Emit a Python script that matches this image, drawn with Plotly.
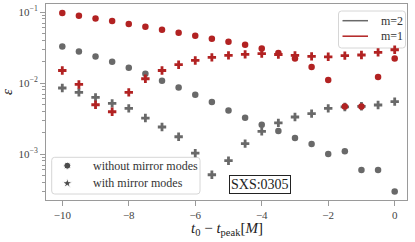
import plotly.graph_objects as go

t_shift = [-10.0, -9.5, -9.0, -8.5, -8.0, -7.5, -7.0, -6.5, -6.0, -5.5, -5.0,
           -4.5, -4.0, -3.5, -3.0, -2.5, -2.0, -1.5, -1.0, -0.5, 0.0]

m2_without = [0.0327, 0.0279, 0.0237, 0.0200, 0.0164, 0.0135, 0.0108, 0.00867,
              0.00684, 0.0054, 0.00411, 0.00324, 0.00259, 0.00211, 0.00168,
              0.00138, 0.00100, 0.00109, 0.000596, 0.000596, 0.000297]
m2_with = [0.0085, 0.00738, 0.00627, 0.00516, 0.00439, 0.00321, 0.0024, 0.00175,
           0.00103, 0.00051, 0.000805, 0.0014, 0.00208, 0.00274, 0.00332,
           0.0037, 0.00439, 0.0046, 0.0047, 0.0049, 0.00546]
m1_without = [0.0968, 0.0887, 0.0813, 0.0747, 0.0677, 0.0621, 0.0563, 0.0511,
              0.0464, 0.0420, 0.0382, 0.0346, 0.0307, 0.0265, 0.0222, 0.0168,
              0.0110, 0.00468, 0.00468, 0.01216, 0.0222]
m1_with = [0.0150, 0.00955, 0.00494, 0.00394, 0.00738, 0.01148, 0.0150, 0.0181,
           0.0208, 0.0230, 0.0245, 0.0253, 0.0259, 0.0252, 0.0245, 0.0237,
           0.0234, 0.0243, 0.0248, 0.0270, 0.0294]

x_ticks = [-10, -8, -6, -4, -2, 0]
y_ticks = [1e-3, 1e-2, 1e-1]
y_tick_labels = ["10<sup>−3</sup>", "10<sup>−2</sup>", "10<sup>−1</sup>"]
label_text = "SXS:0305"
color_legend_names = ["m=2", "m=1"]
marker_legend_names = ["without mirror modes", "with mirror modes"]

GRAY = "#696969"
RED = "#b22222"
FONT = "Liberation Serif"

# plot-area geometry (pixels) used to place decorations in paper coordinates
W, H = 415, 242
ML, MR, MT, MB = 46, 8, 4, 42
PW, PH = W - ML - MR, H - MT - MB


def px(xp):
    return (xp - ML) / PW


def py(yp):
    return (H - MB - yp) / PH


fig = go.Figure()

# data markers (gray first, red on top)
fig.add_trace(go.Scatter(x=t_shift, y=m2_without, mode="markers",
                         marker=dict(symbol="circle", size=6.5, color=GRAY)))
fig.add_trace(go.Scatter(x=t_shift, y=m2_with, mode="markers",
                         marker=dict(symbol="cross", size=7, color=GRAY)))
fig.add_trace(go.Scatter(x=t_shift, y=m1_without, mode="markers",
                         marker=dict(symbol="circle", size=6.5, color=RED)))
fig.add_trace(go.Scatter(x=t_shift, y=m1_with, mode="markers",
                         marker=dict(symbol="cross", size=7, color=RED)))

minor_vals = [m * 10.0 ** e for e in (-4, -3, -2, -1) for m in range(2, 10)]

axis_common = dict(showline=True, linecolor="#9a9a9a", linewidth=1, mirror=True,
                   ticks="outside", tickcolor="#9a9a9a", ticklen=5, tickwidth=1,
                   showgrid=False, zeroline=False,
                   tickfont=dict(family=FONT, size=11, color="#444"))

fig.update_xaxes(range=[-10.49, 0.37], tickmode="array", tickvals=x_ticks,
                 **axis_common)
fig.update_yaxes(type="log", range=[-3.648, -0.887], tickmode="array",
                 tickvals=y_ticks, ticktext=y_tick_labels,
                 minor=dict(tickmode="array", tickvals=minor_vals, ticks="outside",
                            ticklen=3, tickcolor="#9a9a9a", showgrid=False),
                 **axis_common)

# invisible overlay axes in plot-fraction units for legend keys
fig.update_layout(
    xaxis2=dict(overlaying="x", range=[0, 1], visible=False, fixedrange=True),
    yaxis2=dict(overlaying="y", range=[0, 1], visible=False, fixedrange=True),
)


def rounded_box(x0p, y0p, x1p, y1p, r=3):
    rx, ry = r / PW, r / PH
    x0, x1 = px(x0p), px(x1p)
    yb, yt = py(y1p), py(y0p)
    path = (f"M {x0+rx},{yb} L {x1-rx},{yb} Q {x1},{yb} {x1},{yb+ry} "
            f"L {x1},{yt-ry} Q {x1},{yt} {x1-rx},{yt} L {x0+rx},{yt} "
            f"Q {x0},{yt} {x0},{yt-ry} L {x0},{yb+ry} Q {x0},{yb} {x0+rx},{yb} Z")
    fig.add_shape(type="path", path=path, xref="paper", yref="paper",
                  line=dict(color="#d6d6d6", width=1),
                  fillcolor="rgba(255,255,255,0.85)", layer="below")


# legend 1 (colour = m)
rounded_box(338.5, 11, 405.5, 48)
for name, col, yp in zip(color_legend_names, [GRAY, RED], [20.7, 36.2]):
    fig.add_shape(type="line", xref="paper", yref="paper",
                  x0=px(342.5), x1=px(368), y0=py(yp), y1=py(yp),
                  line=dict(color=col, width=1.5), layer="above")
    fig.add_annotation(x=px(378.5), y=py(yp), xref="paper", yref="paper",
                       xanchor="left", yanchor="middle", text=name, showarrow=False,
                       font=dict(family=FONT, size=12, color="#333"))

# legend 2 (marker = mirror modes)
rounded_box(51.7, 157.3, 200, 194)
fig.add_trace(go.Scatter(x=[px(67.3), px(67.3)], y=[py(165.7), py(183.3)],
                         xaxis="x2", yaxis="y2", mode="markers", cliponaxis=False,
                         marker=dict(symbol=["circle", "star"], size=[7, 7.5],
                                     color="black")))
for name, yp in zip(marker_legend_names, [165.7, 183.3]):
    fig.add_annotation(x=px(90.5), y=py(yp), xref="paper", yref="paper",
                       xanchor="left", yanchor="middle", text=name, showarrow=False,
                       font=dict(family=FONT, size=12, color="#333"))

# axis titles
fig.add_annotation(x=0.5, y=py(228.5), xref="paper", yref="paper",
                   xanchor="center", yanchor="middle",
                   text="<i>t</i><sub>0</sub> − <i>t</i><sub>peak</sub>[<i>M</i>]",
                   showarrow=False, font=dict(family=FONT, size=15, color="#222"))
fig.add_annotation(x=px(7), y=py(92), xref="paper", yref="paper",
                   xanchor="center", yanchor="middle",
                   text="<i>ε</i>", textangle=-90,
                   showarrow=False, font=dict(family=FONT, size=15, color="#222"))

# simulation label
fig.add_annotation(x=px(259.5), y=py(184.3), xref="paper", yref="paper",
                   xanchor="center", yanchor="middle", text=label_text,
                   showarrow=False, font=dict(family=FONT, size=14, color="#222"),
                   bordercolor="#222", borderwidth=1, borderpad=1, bgcolor="white")

fig.update_layout(
    width=W, height=H,
    margin=dict(l=ML, r=MR, t=MT, b=MB),
    plot_bgcolor="white", paper_bgcolor="white",
    showlegend=False,
)

fig.write_html("out.html", config={"displayModeBar": False},
               post_script="document.body.style.margin='0';")
